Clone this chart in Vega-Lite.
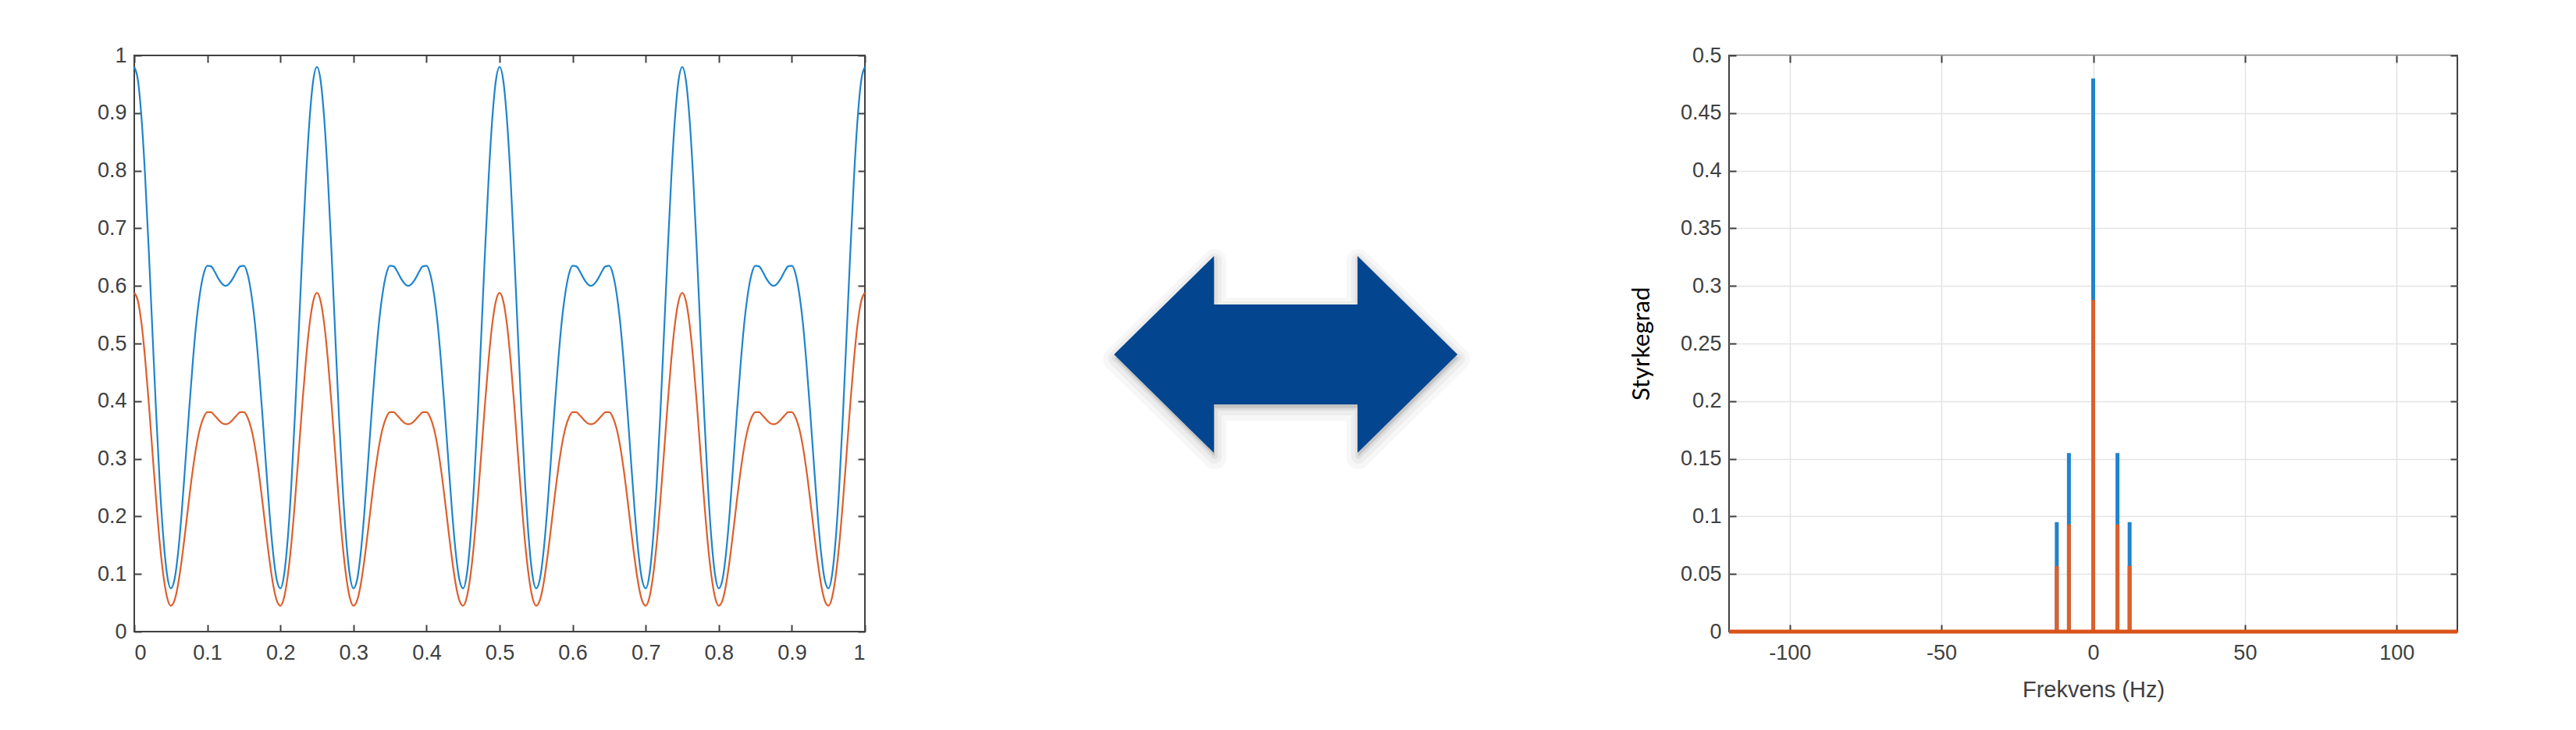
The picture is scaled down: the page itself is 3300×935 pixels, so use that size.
{
  "$schema": "https://vega.github.io/schema/vega-lite/v6.json",
  "background": "#ffffff",
  "padding": {"left": 123, "top": 56, "right": 5, "bottom": 5},
  "bounds": "flush",
  "spacing": 0,
  "config": {
    "view": {"stroke": "#404040", "strokeWidth": 2},
    "axis": {
      "labelFont": "Liberation Sans",
      "labelFontSize": 27,
      "labelColor": "#404040",
      "tickColor": "#404040",
      "tickSize": -9,
      "tickWidth": 2,
      "domain": false,
      "grid": false,
      "titleFont": "Liberation Sans",
      "titleFontWeight": "normal",
      "titleFontSize": 29,
      "titleColor": "#404040",
      "gridColor": "#e3e3e3",
      "gridWidth": 1.5
    },
    "axisX": {"labelPadding": 23},
    "axisY": {"labelPadding": 19}
  },
  "datasets": {
    "sig": [
      {"t":0,"s":"A","v":0.98},{"t":0.005,"s":"A","v":0.957},{"t":0.01,"s":"A","v":0.89},{"t":0.015,"s":"A","v":0.787},{"t":0.02,"s":"A","v":0.658},{"t":0.025,"s":"A","v":0.517},{"t":0.03,"s":"A","v":0.378},{"t":0.035,"s":"A","v":0.255},{"t":0.04,"s":"A","v":0.16},{"t":0.045,"s":"A","v":0.098},
      {"t":0.05,"s":"A","v":0.075},{"t":0.055,"s":"A","v":0.09},{"t":0.06,"s":"A","v":0.137},{"t":0.065,"s":"A","v":0.208},{"t":0.07,"s":"A","v":0.294},{"t":0.075,"s":"A","v":0.383},{"t":0.08,"s":"A","v":0.466},{"t":0.085,"s":"A","v":0.537},{"t":0.09,"s":"A","v":0.588},{"t":0.095,"s":"A","v":0.621},
      {"t":0.1,"s":"A","v":0.635},{"t":0.105,"s":"A","v":0.634},{"t":0.11,"s":"A","v":0.625},{"t":0.115,"s":"A","v":0.613},{"t":0.12,"s":"A","v":0.604},{"t":0.125,"s":"A","v":0.6},{"t":0.13,"s":"A","v":0.604},{"t":0.135,"s":"A","v":0.613},{"t":0.14,"s":"A","v":0.625},{"t":0.145,"s":"A","v":0.634},
      {"t":0.15,"s":"A","v":0.635},{"t":0.155,"s":"A","v":0.621},{"t":0.16,"s":"A","v":0.588},{"t":0.165,"s":"A","v":0.537},{"t":0.17,"s":"A","v":0.466},{"t":0.175,"s":"A","v":0.383},{"t":0.18,"s":"A","v":0.294},{"t":0.185,"s":"A","v":0.208},{"t":0.19,"s":"A","v":0.137},{"t":0.195,"s":"A","v":0.09},
      {"t":0.2,"s":"A","v":0.075},{"t":0.205,"s":"A","v":0.098},{"t":0.21,"s":"A","v":0.16},{"t":0.215,"s":"A","v":0.255},{"t":0.22,"s":"A","v":0.378},{"t":0.225,"s":"A","v":0.517},{"t":0.23,"s":"A","v":0.658},{"t":0.235,"s":"A","v":0.787},{"t":0.24,"s":"A","v":0.89},{"t":0.245,"s":"A","v":0.957},
      {"t":0.25,"s":"A","v":0.98},{"t":0.255,"s":"A","v":0.957},{"t":0.26,"s":"A","v":0.89},{"t":0.265,"s":"A","v":0.787},{"t":0.27,"s":"A","v":0.658},{"t":0.275,"s":"A","v":0.517},{"t":0.28,"s":"A","v":0.378},{"t":0.285,"s":"A","v":0.255},{"t":0.29,"s":"A","v":0.16},{"t":0.295,"s":"A","v":0.098},
      {"t":0.3,"s":"A","v":0.075},{"t":0.305,"s":"A","v":0.09},{"t":0.31,"s":"A","v":0.137},{"t":0.315,"s":"A","v":0.208},{"t":0.32,"s":"A","v":0.294},{"t":0.325,"s":"A","v":0.383},{"t":0.33,"s":"A","v":0.466},{"t":0.335,"s":"A","v":0.537},{"t":0.34,"s":"A","v":0.588},{"t":0.345,"s":"A","v":0.621},
      {"t":0.35,"s":"A","v":0.635},{"t":0.355,"s":"A","v":0.634},{"t":0.36,"s":"A","v":0.625},{"t":0.365,"s":"A","v":0.613},{"t":0.37,"s":"A","v":0.604},{"t":0.375,"s":"A","v":0.6},{"t":0.38,"s":"A","v":0.604},{"t":0.385,"s":"A","v":0.613},{"t":0.39,"s":"A","v":0.625},{"t":0.395,"s":"A","v":0.634},
      {"t":0.4,"s":"A","v":0.635},{"t":0.405,"s":"A","v":0.621},{"t":0.41,"s":"A","v":0.588},{"t":0.415,"s":"A","v":0.537},{"t":0.42,"s":"A","v":0.466},{"t":0.425,"s":"A","v":0.383},{"t":0.43,"s":"A","v":0.294},{"t":0.435,"s":"A","v":0.208},{"t":0.44,"s":"A","v":0.137},{"t":0.445,"s":"A","v":0.09},
      {"t":0.45,"s":"A","v":0.075},{"t":0.455,"s":"A","v":0.098},{"t":0.46,"s":"A","v":0.16},{"t":0.465,"s":"A","v":0.255},{"t":0.47,"s":"A","v":0.378},{"t":0.475,"s":"A","v":0.517},{"t":0.48,"s":"A","v":0.658},{"t":0.485,"s":"A","v":0.787},{"t":0.49,"s":"A","v":0.89},{"t":0.495,"s":"A","v":0.957},
      {"t":0.5,"s":"A","v":0.98},{"t":0.505,"s":"A","v":0.957},{"t":0.51,"s":"A","v":0.89},{"t":0.515,"s":"A","v":0.787},{"t":0.52,"s":"A","v":0.658},{"t":0.525,"s":"A","v":0.517},{"t":0.53,"s":"A","v":0.378},{"t":0.535,"s":"A","v":0.255},{"t":0.54,"s":"A","v":0.16},{"t":0.545,"s":"A","v":0.098},
      {"t":0.55,"s":"A","v":0.075},{"t":0.555,"s":"A","v":0.09},{"t":0.56,"s":"A","v":0.137},{"t":0.565,"s":"A","v":0.208},{"t":0.57,"s":"A","v":0.294},{"t":0.575,"s":"A","v":0.383},{"t":0.58,"s":"A","v":0.466},{"t":0.585,"s":"A","v":0.537},{"t":0.59,"s":"A","v":0.588},{"t":0.595,"s":"A","v":0.621},
      {"t":0.6,"s":"A","v":0.635},{"t":0.605,"s":"A","v":0.634},{"t":0.61,"s":"A","v":0.625},{"t":0.615,"s":"A","v":0.613},{"t":0.62,"s":"A","v":0.604},{"t":0.625,"s":"A","v":0.6},{"t":0.63,"s":"A","v":0.604},{"t":0.635,"s":"A","v":0.613},{"t":0.64,"s":"A","v":0.625},{"t":0.645,"s":"A","v":0.634},
      {"t":0.65,"s":"A","v":0.635},{"t":0.655,"s":"A","v":0.621},{"t":0.66,"s":"A","v":0.588},{"t":0.665,"s":"A","v":0.537},{"t":0.67,"s":"A","v":0.466},{"t":0.675,"s":"A","v":0.383},{"t":0.68,"s":"A","v":0.294},{"t":0.685,"s":"A","v":0.208},{"t":0.69,"s":"A","v":0.137},{"t":0.695,"s":"A","v":0.09},
      {"t":0.7,"s":"A","v":0.075},{"t":0.705,"s":"A","v":0.098},{"t":0.71,"s":"A","v":0.16},{"t":0.715,"s":"A","v":0.255},{"t":0.72,"s":"A","v":0.378},{"t":0.725,"s":"A","v":0.517},{"t":0.73,"s":"A","v":0.658},{"t":0.735,"s":"A","v":0.787},{"t":0.74,"s":"A","v":0.89},{"t":0.745,"s":"A","v":0.957},
      {"t":0.75,"s":"A","v":0.98},{"t":0.755,"s":"A","v":0.957},{"t":0.76,"s":"A","v":0.89},{"t":0.765,"s":"A","v":0.787},{"t":0.77,"s":"A","v":0.658},{"t":0.775,"s":"A","v":0.517},{"t":0.78,"s":"A","v":0.378},{"t":0.785,"s":"A","v":0.255},{"t":0.79,"s":"A","v":0.16},{"t":0.795,"s":"A","v":0.098},
      {"t":0.8,"s":"A","v":0.075},{"t":0.805,"s":"A","v":0.09},{"t":0.81,"s":"A","v":0.137},{"t":0.815,"s":"A","v":0.208},{"t":0.82,"s":"A","v":0.294},{"t":0.825,"s":"A","v":0.383},{"t":0.83,"s":"A","v":0.466},{"t":0.835,"s":"A","v":0.537},{"t":0.84,"s":"A","v":0.588},{"t":0.845,"s":"A","v":0.621},
      {"t":0.85,"s":"A","v":0.635},{"t":0.855,"s":"A","v":0.634},{"t":0.86,"s":"A","v":0.625},{"t":0.865,"s":"A","v":0.613},{"t":0.87,"s":"A","v":0.604},{"t":0.875,"s":"A","v":0.6},{"t":0.88,"s":"A","v":0.604},{"t":0.885,"s":"A","v":0.613},{"t":0.89,"s":"A","v":0.625},{"t":0.895,"s":"A","v":0.634},
      {"t":0.9,"s":"A","v":0.635},{"t":0.905,"s":"A","v":0.621},{"t":0.91,"s":"A","v":0.588},{"t":0.915,"s":"A","v":0.537},{"t":0.92,"s":"A","v":0.466},{"t":0.925,"s":"A","v":0.383},{"t":0.93,"s":"A","v":0.294},{"t":0.935,"s":"A","v":0.208},{"t":0.94,"s":"A","v":0.137},{"t":0.945,"s":"A","v":0.09},
      {"t":0.95,"s":"A","v":0.075},{"t":0.955,"s":"A","v":0.098},{"t":0.96,"s":"A","v":0.16},{"t":0.965,"s":"A","v":0.255},{"t":0.97,"s":"A","v":0.378},{"t":0.975,"s":"A","v":0.517},{"t":0.98,"s":"A","v":0.658},{"t":0.985,"s":"A","v":0.787},{"t":0.99,"s":"A","v":0.89},{"t":0.995,"s":"A","v":0.957},
      {"t":1,"s":"A","v":0.98},
      {"t":0,"s":"B","v":0.588},{"t":0.005,"s":"B","v":0.574},{"t":0.01,"s":"B","v":0.534},{"t":0.015,"s":"B","v":0.472},{"t":0.02,"s":"B","v":0.395},{"t":0.025,"s":"B","v":0.31},{"t":0.03,"s":"B","v":0.227},{"t":0.035,"s":"B","v":0.153},{"t":0.04,"s":"B","v":0.096},{"t":0.045,"s":"B","v":0.059},
      {"t":0.05,"s":"B","v":0.045},{"t":0.055,"s":"B","v":0.054},{"t":0.06,"s":"B","v":0.082},{"t":0.065,"s":"B","v":0.125},{"t":0.07,"s":"B","v":0.176},{"t":0.075,"s":"B","v":0.23},{"t":0.08,"s":"B","v":0.28},{"t":0.085,"s":"B","v":0.322},{"t":0.09,"s":"B","v":0.353},{"t":0.095,"s":"B","v":0.372},
      {"t":0.1,"s":"B","v":0.381},{"t":0.105,"s":"B","v":0.381},{"t":0.11,"s":"B","v":0.375},{"t":0.115,"s":"B","v":0.368},{"t":0.12,"s":"B","v":0.362},{"t":0.125,"s":"B","v":0.36},{"t":0.13,"s":"B","v":0.362},{"t":0.135,"s":"B","v":0.368},{"t":0.14,"s":"B","v":0.375},{"t":0.145,"s":"B","v":0.381},
      {"t":0.15,"s":"B","v":0.381},{"t":0.155,"s":"B","v":0.372},{"t":0.16,"s":"B","v":0.353},{"t":0.165,"s":"B","v":0.322},{"t":0.17,"s":"B","v":0.28},{"t":0.175,"s":"B","v":0.23},{"t":0.18,"s":"B","v":0.176},{"t":0.185,"s":"B","v":0.125},{"t":0.19,"s":"B","v":0.082},{"t":0.195,"s":"B","v":0.054},
      {"t":0.2,"s":"B","v":0.045},{"t":0.205,"s":"B","v":0.059},{"t":0.21,"s":"B","v":0.096},{"t":0.215,"s":"B","v":0.153},{"t":0.22,"s":"B","v":0.227},{"t":0.225,"s":"B","v":0.31},{"t":0.23,"s":"B","v":0.395},{"t":0.235,"s":"B","v":0.472},{"t":0.24,"s":"B","v":0.534},{"t":0.245,"s":"B","v":0.574},
      {"t":0.25,"s":"B","v":0.588},{"t":0.255,"s":"B","v":0.574},{"t":0.26,"s":"B","v":0.534},{"t":0.265,"s":"B","v":0.472},{"t":0.27,"s":"B","v":0.395},{"t":0.275,"s":"B","v":0.31},{"t":0.28,"s":"B","v":0.227},{"t":0.285,"s":"B","v":0.153},{"t":0.29,"s":"B","v":0.096},{"t":0.295,"s":"B","v":0.059},
      {"t":0.3,"s":"B","v":0.045},{"t":0.305,"s":"B","v":0.054},{"t":0.31,"s":"B","v":0.082},{"t":0.315,"s":"B","v":0.125},{"t":0.32,"s":"B","v":0.176},{"t":0.325,"s":"B","v":0.23},{"t":0.33,"s":"B","v":0.28},{"t":0.335,"s":"B","v":0.322},{"t":0.34,"s":"B","v":0.353},{"t":0.345,"s":"B","v":0.372},
      {"t":0.35,"s":"B","v":0.381},{"t":0.355,"s":"B","v":0.381},{"t":0.36,"s":"B","v":0.375},{"t":0.365,"s":"B","v":0.368},{"t":0.37,"s":"B","v":0.362},{"t":0.375,"s":"B","v":0.36},{"t":0.38,"s":"B","v":0.362},{"t":0.385,"s":"B","v":0.368},{"t":0.39,"s":"B","v":0.375},{"t":0.395,"s":"B","v":0.381},
      {"t":0.4,"s":"B","v":0.381},{"t":0.405,"s":"B","v":0.372},{"t":0.41,"s":"B","v":0.353},{"t":0.415,"s":"B","v":0.322},{"t":0.42,"s":"B","v":0.28},{"t":0.425,"s":"B","v":0.23},{"t":0.43,"s":"B","v":0.176},{"t":0.435,"s":"B","v":0.125},{"t":0.44,"s":"B","v":0.082},{"t":0.445,"s":"B","v":0.054},
      {"t":0.45,"s":"B","v":0.045},{"t":0.455,"s":"B","v":0.059},{"t":0.46,"s":"B","v":0.096},{"t":0.465,"s":"B","v":0.153},{"t":0.47,"s":"B","v":0.227},{"t":0.475,"s":"B","v":0.31},{"t":0.48,"s":"B","v":0.395},{"t":0.485,"s":"B","v":0.472},{"t":0.49,"s":"B","v":0.534},{"t":0.495,"s":"B","v":0.574},
      {"t":0.5,"s":"B","v":0.588},{"t":0.505,"s":"B","v":0.574},{"t":0.51,"s":"B","v":0.534},{"t":0.515,"s":"B","v":0.472},{"t":0.52,"s":"B","v":0.395},{"t":0.525,"s":"B","v":0.31},{"t":0.53,"s":"B","v":0.227},{"t":0.535,"s":"B","v":0.153},{"t":0.54,"s":"B","v":0.096},{"t":0.545,"s":"B","v":0.059},
      {"t":0.55,"s":"B","v":0.045},{"t":0.555,"s":"B","v":0.054},{"t":0.56,"s":"B","v":0.082},{"t":0.565,"s":"B","v":0.125},{"t":0.57,"s":"B","v":0.176},{"t":0.575,"s":"B","v":0.23},{"t":0.58,"s":"B","v":0.28},{"t":0.585,"s":"B","v":0.322},{"t":0.59,"s":"B","v":0.353},{"t":0.595,"s":"B","v":0.372},
      {"t":0.6,"s":"B","v":0.381},{"t":0.605,"s":"B","v":0.381},{"t":0.61,"s":"B","v":0.375},{"t":0.615,"s":"B","v":0.368},{"t":0.62,"s":"B","v":0.362},{"t":0.625,"s":"B","v":0.36},{"t":0.63,"s":"B","v":0.362},{"t":0.635,"s":"B","v":0.368},{"t":0.64,"s":"B","v":0.375},{"t":0.645,"s":"B","v":0.381},
      {"t":0.65,"s":"B","v":0.381},{"t":0.655,"s":"B","v":0.372},{"t":0.66,"s":"B","v":0.353},{"t":0.665,"s":"B","v":0.322},{"t":0.67,"s":"B","v":0.28},{"t":0.675,"s":"B","v":0.23},{"t":0.68,"s":"B","v":0.176},{"t":0.685,"s":"B","v":0.125},{"t":0.69,"s":"B","v":0.082},{"t":0.695,"s":"B","v":0.054},
      {"t":0.7,"s":"B","v":0.045},{"t":0.705,"s":"B","v":0.059},{"t":0.71,"s":"B","v":0.096},{"t":0.715,"s":"B","v":0.153},{"t":0.72,"s":"B","v":0.227},{"t":0.725,"s":"B","v":0.31},{"t":0.73,"s":"B","v":0.395},{"t":0.735,"s":"B","v":0.472},{"t":0.74,"s":"B","v":0.534},{"t":0.745,"s":"B","v":0.574},
      {"t":0.75,"s":"B","v":0.588},{"t":0.755,"s":"B","v":0.574},{"t":0.76,"s":"B","v":0.534},{"t":0.765,"s":"B","v":0.472},{"t":0.77,"s":"B","v":0.395},{"t":0.775,"s":"B","v":0.31},{"t":0.78,"s":"B","v":0.227},{"t":0.785,"s":"B","v":0.153},{"t":0.79,"s":"B","v":0.096},{"t":0.795,"s":"B","v":0.059},
      {"t":0.8,"s":"B","v":0.045},{"t":0.805,"s":"B","v":0.054},{"t":0.81,"s":"B","v":0.082},{"t":0.815,"s":"B","v":0.125},{"t":0.82,"s":"B","v":0.176},{"t":0.825,"s":"B","v":0.23},{"t":0.83,"s":"B","v":0.28},{"t":0.835,"s":"B","v":0.322},{"t":0.84,"s":"B","v":0.353},{"t":0.845,"s":"B","v":0.372},
      {"t":0.85,"s":"B","v":0.381},{"t":0.855,"s":"B","v":0.381},{"t":0.86,"s":"B","v":0.375},{"t":0.865,"s":"B","v":0.368},{"t":0.87,"s":"B","v":0.362},{"t":0.875,"s":"B","v":0.36},{"t":0.88,"s":"B","v":0.362},{"t":0.885,"s":"B","v":0.368},{"t":0.89,"s":"B","v":0.375},{"t":0.895,"s":"B","v":0.381},
      {"t":0.9,"s":"B","v":0.381},{"t":0.905,"s":"B","v":0.372},{"t":0.91,"s":"B","v":0.353},{"t":0.915,"s":"B","v":0.322},{"t":0.92,"s":"B","v":0.28},{"t":0.925,"s":"B","v":0.23},{"t":0.93,"s":"B","v":0.176},{"t":0.935,"s":"B","v":0.125},{"t":0.94,"s":"B","v":0.082},{"t":0.945,"s":"B","v":0.054},
      {"t":0.95,"s":"B","v":0.045},{"t":0.955,"s":"B","v":0.059},{"t":0.96,"s":"B","v":0.096},{"t":0.965,"s":"B","v":0.153},{"t":0.97,"s":"B","v":0.227},{"t":0.975,"s":"B","v":0.31},{"t":0.98,"s":"B","v":0.395},{"t":0.985,"s":"B","v":0.472},{"t":0.99,"s":"B","v":0.534},{"t":0.995,"s":"B","v":0.574},
      {"t":1,"s":"B","v":0.588}
    ],
    "spec": [
      {"f":-12,"s":"A","v":0.095},{"f":-8,"s":"A","v":0.155},{"f":0,"s":"A","v":0.48},{"f":8,"s":"A","v":0.155},{"f":12,"s":"A","v":0.095},
      {"f":-12,"s":"B","v":0.057},{"f":-8,"s":"B","v":0.093},{"f":0,"s":"B","v":0.288},{"f":8,"s":"B","v":0.093},{"f":12,"s":"B","v":0.057}
    ]
  },
  "hconcat": [
    {
      "width": 936,
      "height": 738,
      "data": {"name": "sig"},
      "layer": [
        {
          "mark": {"type": "line", "strokeWidth": 2.2, "interpolate": "monotone"},
          "encoding": {
            "x": {"field": "t", "type": "quantitative", "scale": {"domain": [0, 1], "nice": false},
                  "axis": {"title": null, "orient": "bottom", "values": [0,0.1,0.2,0.3,0.4,0.5,0.6,0.7,0.8,0.9,1], "format": "~g"}},
            "y": {"field": "v", "type": "quantitative", "scale": {"domain": [0, 1], "nice": false},
                  "axis": {"title": null, "orient": "left", "values": [0,0.1,0.2,0.3,0.4,0.5,0.6,0.7,0.8,0.9,1], "format": "~g"}},
            "color": {"field": "s", "type": "nominal", "scale": {"domain": ["A", "B"], "range": ["#1f84cc", "#dd5f2c"]}, "legend": null}
          }
        },
        {
          "mark": {"type": "point", "opacity": 0},
          "encoding": {
            "x": {"field": "t", "type": "quantitative",
                  "axis": {"title": null, "orient": "top", "labels": false, "values": [0,0.1,0.2,0.3,0.4,0.5,0.6,0.7,0.8,0.9,1]}},
            "y": {"field": "v", "type": "quantitative",
                  "axis": {"title": null, "orient": "right", "labels": false, "values": [0,0.1,0.2,0.3,0.4,0.5,0.6,0.7,0.8,0.9,1]}}
          }
        }
      ],
      "resolve": {"axis": {"x": "independent", "y": "independent"}}
    },
    {
      "width": 1107,
      "height": 738,
      "view": {"stroke": null},
      "data": {"values": [{"shape": "arrow"}]},
      "encoding": {
        "x": {"datum": 0.487, "type": "quantitative", "scale": {"domain": [0, 1]}, "axis": null},
        "y": {"datum": 0.481, "type": "quantitative", "scale": {"domain": [0, 1]}, "axis": null}
      },
      "layer": [
        {
          "mark": {"type": "point", "shape": "M-1,0L-0.418,-0.573L-0.418,-0.291L0.418,-0.291L0.418,-0.573L1,0L0.418,0.573L0.418,0.291L-0.418,0.291L-0.418,0.573Z",
                   "size": 193600, "filled": true, "fill": "#000000", "fillOpacity": 0.03, "stroke": "#000000", "strokeOpacity": 0.03, "strokeWidth": 30, "strokeJoin": "round", "opacity": 1, "yOffset": 6, "xOffset": 1}
        },
        {
          "mark": {"type": "point", "shape": "M-1,0L-0.418,-0.573L-0.418,-0.291L0.418,-0.291L0.418,-0.573L1,0L0.418,0.573L0.418,0.291L-0.418,0.291L-0.418,0.573Z",
                   "size": 193600, "filled": true, "fill": "#000000", "fillOpacity": 0.04, "stroke": "#000000", "strokeOpacity": 0.04, "strokeWidth": 18, "strokeJoin": "round", "opacity": 1, "yOffset": 5, "xOffset": 1}
        },
        {
          "mark": {"type": "point", "shape": "M-1,0L-0.418,-0.573L-0.418,-0.291L0.418,-0.291L0.418,-0.573L1,0L0.418,0.573L0.418,0.291L-0.418,0.291L-0.418,0.573Z",
                   "size": 193600, "filled": true, "fill": "#000000", "fillOpacity": 0.05, "stroke": "#000000", "strokeOpacity": 0.05, "strokeWidth": 8, "strokeJoin": "round", "opacity": 1, "yOffset": 4, "xOffset": 1}
        },
        {
          "mark": {"type": "point", "shape": "M-1,0L-0.418,-0.573L-0.418,-0.291L0.418,-0.291L0.418,-0.573L1,0L0.418,0.573L0.418,0.291L-0.418,0.291L-0.418,0.573Z",
                   "size": 193600, "filled": true, "fill": "#03458F", "strokeWidth": 0, "opacity": 1}
        }
      ]
    },
    {
      "width": 933,
      "height": 738,
      "data": {"name": "spec"},
      "layer": [
        {
          "mark": {"type": "rule", "strokeWidth": 5},
          "encoding": {
            "x": {"field": "f", "type": "quantitative", "scale": {"domain": [-120, 120], "nice": false},
                  "axis": {"title": "Frekvens (Hz)", "orient": "bottom", "grid": true, "values": [-100, -50, 0, 50, 100], "labelExpr": "datum.value + ''", "titlePadding": 20}},
            "y": {"field": "v", "type": "quantitative", "scale": {"domain": [0, 0.5], "nice": false},
                  "axis": {"title": "Styrkegrad", "orient": "left", "grid": true, "values": [0,0.05,0.1,0.15,0.2,0.25,0.3,0.35,0.4,0.45,0.5], "format": "~g",
                           "titleFont": "Lato", "titleFontSize": 31, "titleColor": "#000000", "titlePadding": 33}},
            "y2": {"datum": 0},
            "color": {"field": "s", "type": "nominal", "scale": {"domain": ["A", "B"], "range": ["#0072BD", "#D95319"]}, "legend": null}
          }
        },
        {
          "data": {"values": [{"level": 0}]},
          "mark": {"type": "rule", "strokeWidth": 5, "color": "#D95319"},
          "encoding": {
            "y": {"field": "level", "type": "quantitative", "axis": null}
          }
        },
        {
          "mark": {"type": "point", "opacity": 0},
          "encoding": {
            "x": {"field": "f", "type": "quantitative",
                  "axis": {"title": null, "orient": "top", "labels": false, "values": [-100, -50, 0, 50, 100]}},
            "y": {"field": "v", "type": "quantitative",
                  "axis": {"title": null, "orient": "right", "labels": false, "values": [0,0.05,0.1,0.15,0.2,0.25,0.3,0.35,0.4,0.45,0.5]}}
          }
        }
      ],
      "resolve": {"axis": {"x": "independent", "y": "independent"}}
    }
  ]
}
